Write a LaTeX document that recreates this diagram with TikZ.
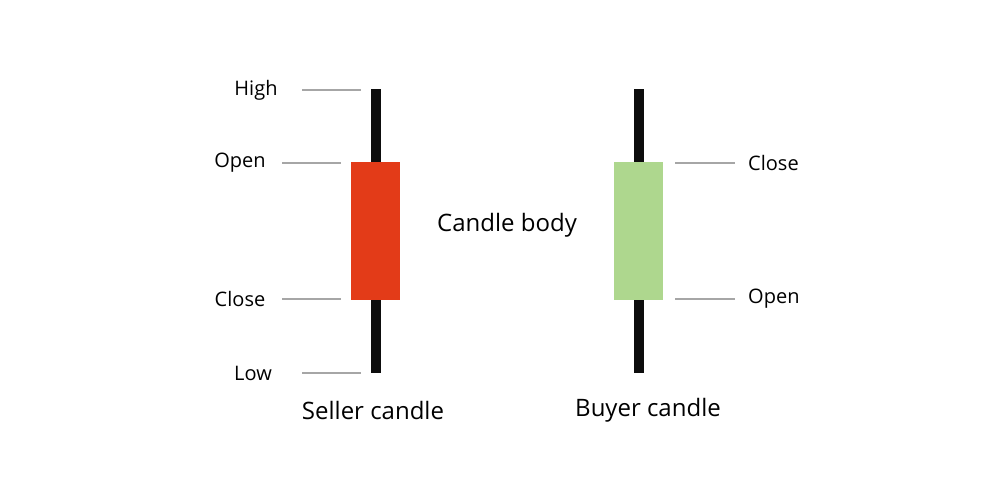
\documentclass[tikz,border=0pt]{standalone}
\usepackage{fontspec}
\setmainfont{Open Sans}
\begin{document}
\begin{tikzpicture}[x=1pt,y=-1pt,
 lbl/.style={font=\fontsize{20}{24}\selectfont,inner sep=0pt},
 big/.style={font=\fontsize{24}{28}\selectfont,inner sep=0pt},
 tick/.style={draw=black!35,line width=1.2pt},
 wick/.style={fill=black!95},
]
\useasboundingbox (0,0) rectangle (1000,500);
% seller
\fill[wick] (371,89) rectangle (381,373);
\node[fill={rgb,255:red,227;green,59;blue,24},minimum width=49pt,minimum height=138pt,inner sep=0pt] (sb) at (375.5,231) {};
% buyer
\fill[wick] (634,89) rectangle (644,373);
\node[fill={rgb,255:red,174;green,215;blue,142},minimum width=49pt,minimum height=138pt,inner sep=0pt] (bb) at (638.5,231) {};
% labels left
\node[lbl] (high) at (256,90) {High};
\node[lbl] (open1) at (240,163) {Open};
\node[lbl] (close1) at (240,299) {Close};
\node[lbl] (low) at (253,373) {Low};
\draw[tick] (302,90) -- (361,90);
\draw[tick] (282,163) -- (341,163);
\draw[tick] (282,299) -- (341,299);
\draw[tick] (302,373) -- (361,373);
% labels right
\node[lbl,anchor=west] (close2) at (748,163) {Close};
\node[lbl,anchor=west] (open2) at (748,299) {Open};
\draw[tick] (675,163) -- (735,163);
\draw[tick] (675,299) -- (735,299);
\node[big] (body) at (507,225) {Candle body};
\node[big] (sell) at (373,410) {Seller candle};
\node[big] (buy) at (648,410) {Buyer candle};
\end{tikzpicture}
\end{document}
